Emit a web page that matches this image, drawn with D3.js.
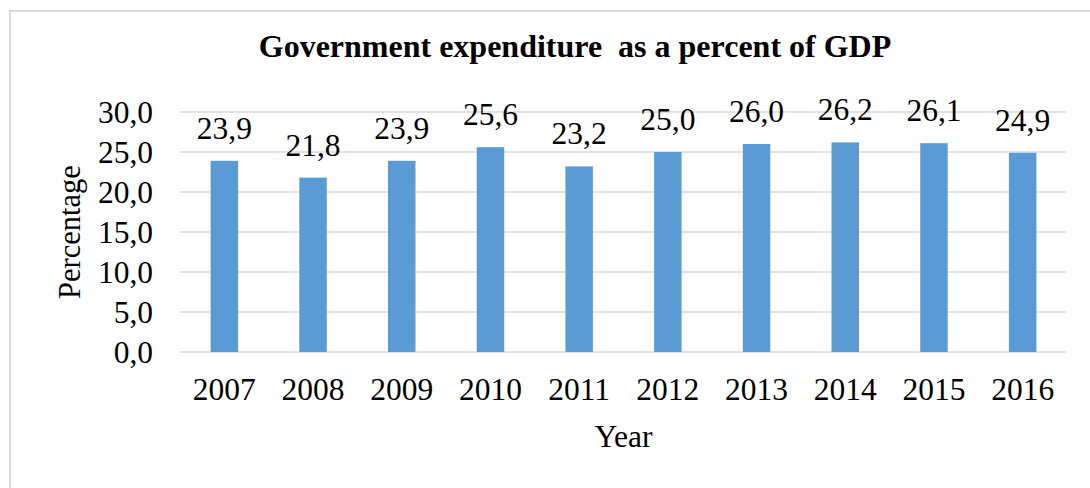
<!DOCTYPE html>
<html><head><meta charset="utf-8">
<script src="https://cdn.jsdelivr.net/npm/d3@7"></script>
<style>html,body{margin:0;padding:0;background:#fff;}svg{display:block;}</style>
</head><body>
<script>
const years = ["2007","2008","2009","2010","2011","2012","2013","2014","2015","2016"];
const values = [23.9, 21.8, 23.9, 25.6, 23.2, 25.0, 26.0, 26.2, 26.1, 24.9];
const yTicks = [0, 5, 10, 15, 20, 25, 30];
const title = "Government expenditure  as a percent of GDP";
const xTitle = "Year";
const yTitle = "Percentage";

const W = 1090, H = 488;
const svg = d3.select("body").append("svg").attr("width", W).attr("height", H);
const font = "'Liberation Serif','Times New Roman',serif";
const fs = 31.5;

svg.append("rect").attr("x", 10).attr("y", 11).attr("width", 1100).attr("height", 500)
  .attr("fill", "#fff").attr("stroke", "#d9d9d9").attr("stroke-width", 2);

const x = d3.scaleBand().domain(years).range([180, 1067]).paddingInner(0.69).paddingOuter(0.345);
const y = d3.scaleLinear().domain([0, 30]).range([352, 112]);

const fmt = v => d3.format(".1f")(v).replace(".", ",");

svg.append("g").selectAll("line").data(yTicks).join("line")
  .attr("x1", 180).attr("x2", 1067).attr("y1", d => y(d)).attr("y2", d => y(d))
  .attr("stroke", "#d9d9d9").attr("stroke-width", 1.5);

svg.append("g").selectAll("text").data(yTicks).join("text")
  .attr("x", 153).attr("y", d => y(d)).attr("dy", "0.35em").attr("text-anchor", "end")
  .attr("font-family", font).attr("font-size", fs).attr("fill", "#000").text(d => fmt(d));

svg.append("g").selectAll("rect").data(values).join("rect")
  .attr("x", (d, i) => x(years[i])).attr("width", x.bandwidth())
  .attr("y", d => y(d)).attr("height", d => y(0) - y(d)).attr("fill", "#5b9bd5");

svg.append("g").selectAll("text").data(values).join("text")
  .attr("x", (d, i) => x(years[i]) + x.bandwidth() / 2).attr("y", d => y(d) - 22)
  .attr("text-anchor", "middle").attr("font-family", font).attr("font-size", fs).attr("fill", "#000")
  .text(d => fmt(d));

svg.append("g").selectAll("text").data(years).join("text")
  .attr("x", d => x(d) + x.bandwidth() / 2).attr("y", 400)
  .attr("text-anchor", "middle").attr("font-family", font).attr("font-size", fs).attr("fill", "#000")
  .text(d => d);

svg.append("text").attr("x", 623.5).attr("y", 447).attr("text-anchor", "middle")
  .attr("font-family", font).attr("font-size", fs).attr("fill", "#000").text(xTitle);

svg.append("text").attr("transform", "translate(80,232) rotate(-90)").attr("text-anchor", "middle")
  .attr("font-family", font).attr("font-size", 30.5).attr("fill", "#000").text(yTitle);

svg.append("text").attr("x", 575).attr("y", 57).attr("text-anchor", "middle")
  .attr("font-family", font).attr("font-size", 32).attr("font-weight", "bold").attr("fill", "#000")
  .style("white-space", "pre").text(title);
</script>
</body></html>
